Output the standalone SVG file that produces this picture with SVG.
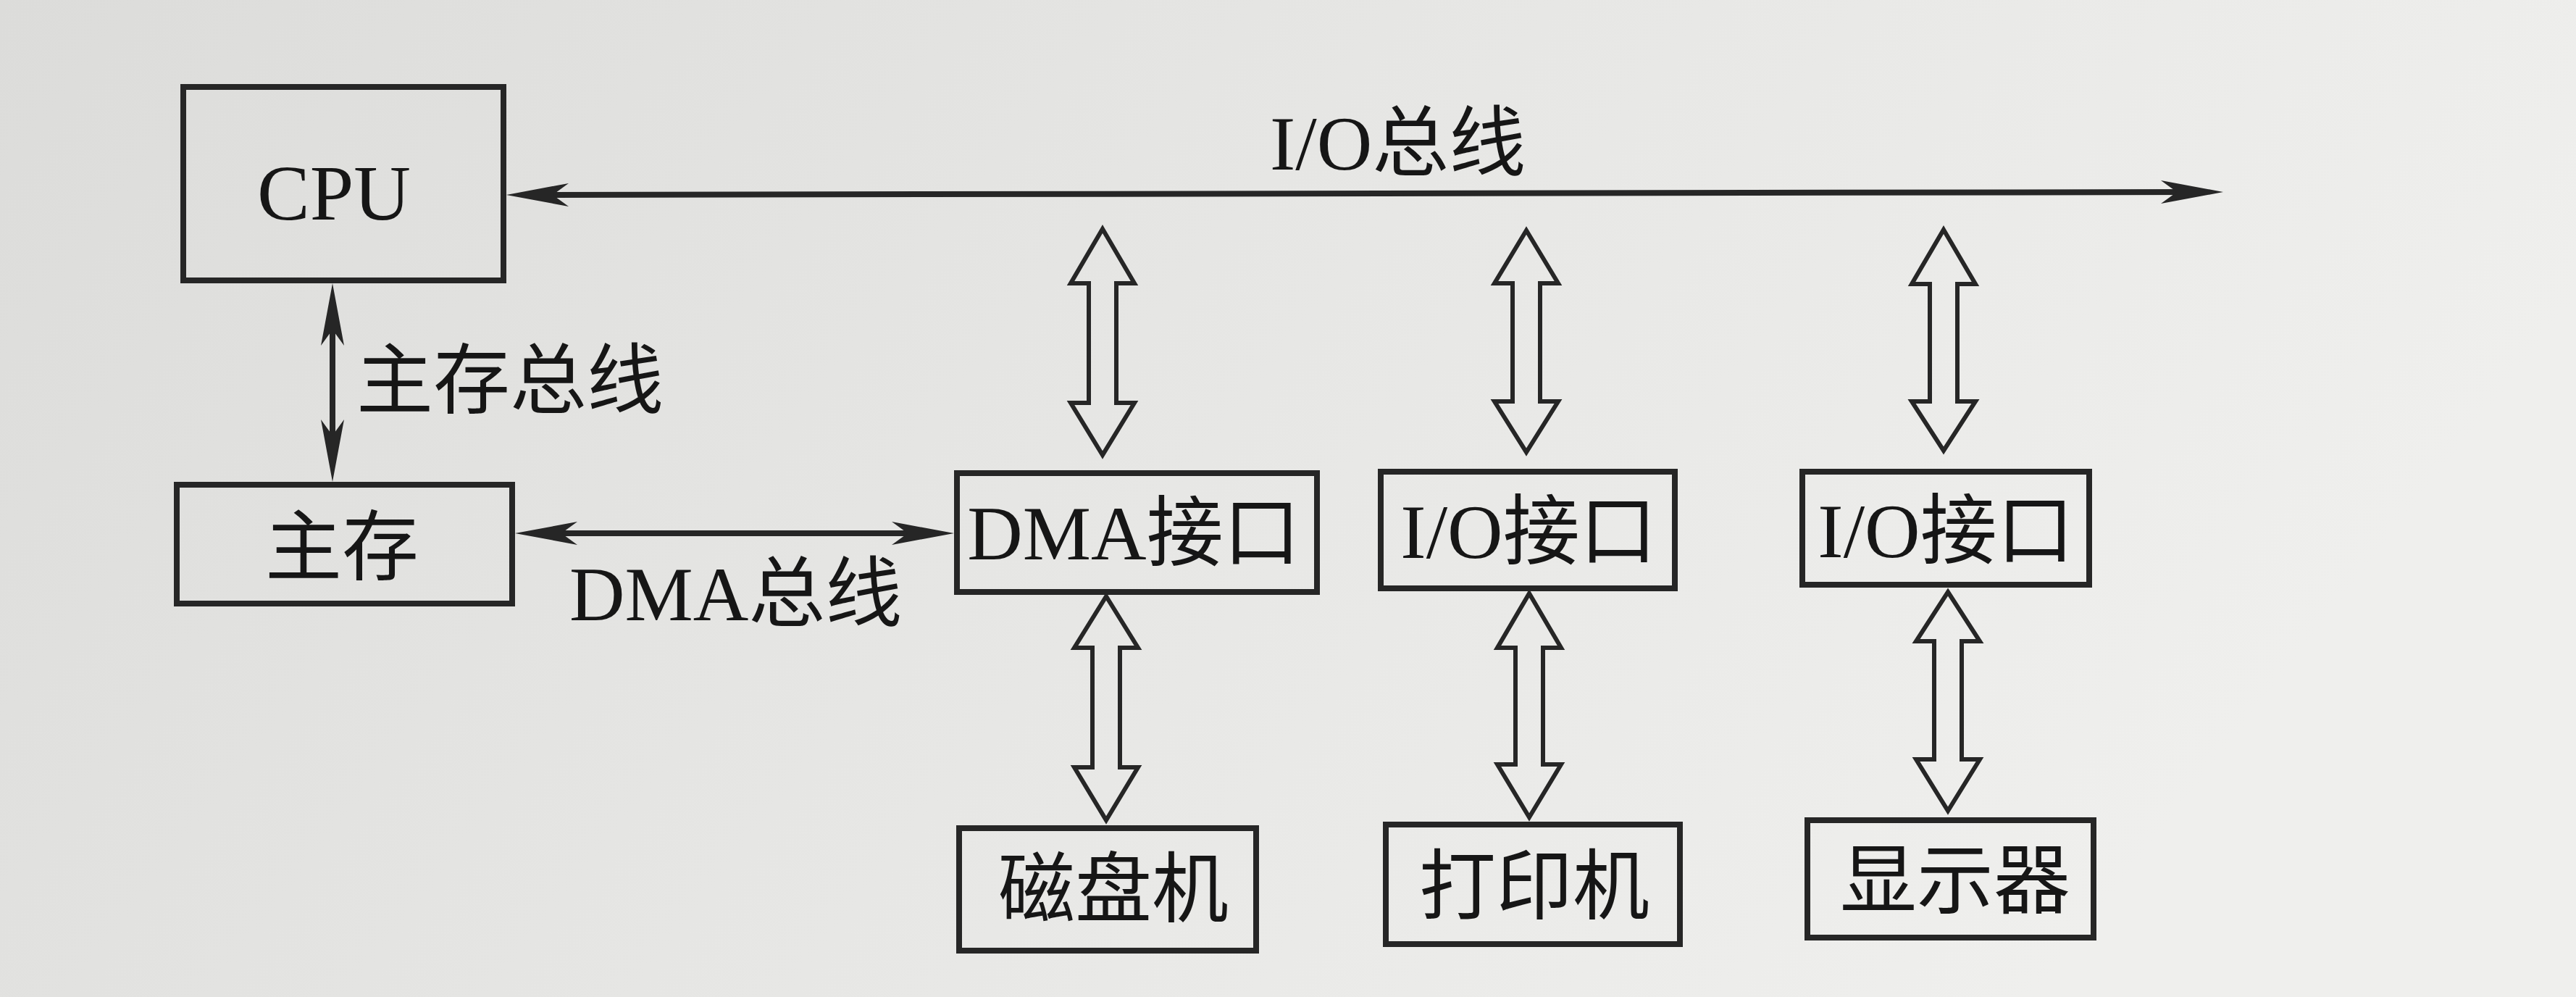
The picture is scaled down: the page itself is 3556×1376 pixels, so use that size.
<svg xmlns="http://www.w3.org/2000/svg" width="3556" height="1376" viewBox="0 0 3556 1376">
<defs>
<linearGradient id="paper" x1="0" y1="0" x2="1" y2="0.3">
<stop offset="0" stop-color="#dcdcda"/>
<stop offset="0.5" stop-color="#e6e6e4"/>
<stop offset="1" stop-color="#efefed"/>
</linearGradient>
<marker id="ah" markerUnits="userSpaceOnUse" viewBox="-50 -20 95 40" markerWidth="95" markerHeight="40" refX="0" refY="0" orient="auto-start-reverse">
<path d="M40,0 L-46,-16 L-24,0 L-46,16 Z" fill="#262626"/>
</marker>
</defs>
<style>
.box{fill:none;stroke:#262626;stroke-width:8}
.t{font-family:"Liberation Serif","Noto Sans CJK SC",serif;font-size:106px;fill:#161616;text-anchor:middle}
.lbl{font-family:"Liberation Serif","Noto Sans CJK SC",serif;font-size:106px;fill:#161616}
.bus{stroke:#262626;stroke-width:8;fill:none;marker-start:url(#ah);marker-end:url(#ah)}
.dbl{fill:none;stroke:#262626;stroke-width:6;stroke-linejoin:miter}
</style>
<rect x="0" y="0" width="3556" height="1376" fill="url(#paper)"/>

<g id="connectors">
<line class="bus" x1="739" y1="269" x2="3029" y2="265"/>
<line class="bus" x1="459" y1="431" x2="459" y2="625"/>
<line class="bus" x1="751" y1="736" x2="1277" y2="736"/>
<path class="dbl" d="M1522,316 L1566,391 L1541,391 L1541,556 L1566,556 L1522,628 L1478,556 L1503,556 L1503,391 L1478,391 Z"/>
<path class="dbl" d="M2107,318 L2151,391 L2126,391 L2126,554 L2151,554 L2107,624 L2063,554 L2088,554 L2088,391 L2063,391 Z"/>
<path class="dbl" d="M2683,317 L2727,392 L2702,392 L2702,554 L2727,554 L2683,622 L2639,554 L2664,554 L2664,392 L2639,392 Z"/>
<path class="dbl" d="M1527,823 L1571,894 L1546,894 L1546,1059 L1571,1059 L1527,1132 L1483,1059 L1508,1059 L1508,894 L1483,894 Z"/>
<path class="dbl" d="M2111,819 L2155,894 L2130,894 L2130,1055 L2155,1055 L2111,1128 L2067,1055 L2092,1055 L2092,894 L2067,894 Z"/>
<path class="dbl" d="M2689,817 L2733,885 L2708,885 L2708,1048 L2733,1048 L2689,1119 L2645,1048 L2670,1048 L2670,885 L2645,885 Z"/>
<text class="lbl" x="1753" y="234">I/O总线</text>
<text class="lbl" x="492" y="562">主存总线</text>
<text class="lbl" x="786" y="856">DMA总线</text>
</g>

<g id="cpu">
<rect class="box" x="253" y="120" width="442" height="267"/>
<text class="t" x="461" y="303" style="font-size:109px">CPU</text>
</g>
<g id="main-memory">
<rect class="box" x="244" y="669" width="463" height="164"/>
<text class="t" x="472" y="792">主存</text>
</g>
<g id="dma-interface">
<rect class="box" x="1321" y="653" width="497" height="164"/>
<text class="t" x="1565" y="772">DMA接口</text>
</g>
<g id="io-interface-1">
<rect class="box" x="1906" y="651" width="406" height="161"/>
<text class="t" x="2110" y="770">I/O接口</text>
</g>
<g id="io-interface-2">
<rect class="box" x="2488" y="651" width="396" height="156"/>
<text class="t" x="2686" y="769">I/O接口</text>
</g>
<g id="disk">
<rect class="box" x="1324" y="1143" width="410" height="169"/>
<text class="t" x="1537" y="1264">磁盘机</text>
</g>
<g id="printer">
<rect class="box" x="1913" y="1138" width="406" height="165"/>
<text class="t" x="2118" y="1260">打印机</text>
</g>
<g id="display">
<rect class="box" x="2495" y="1132" width="395" height="162"/>
<text class="t" x="2699" y="1252">显示器</text>
</g>
</svg>
